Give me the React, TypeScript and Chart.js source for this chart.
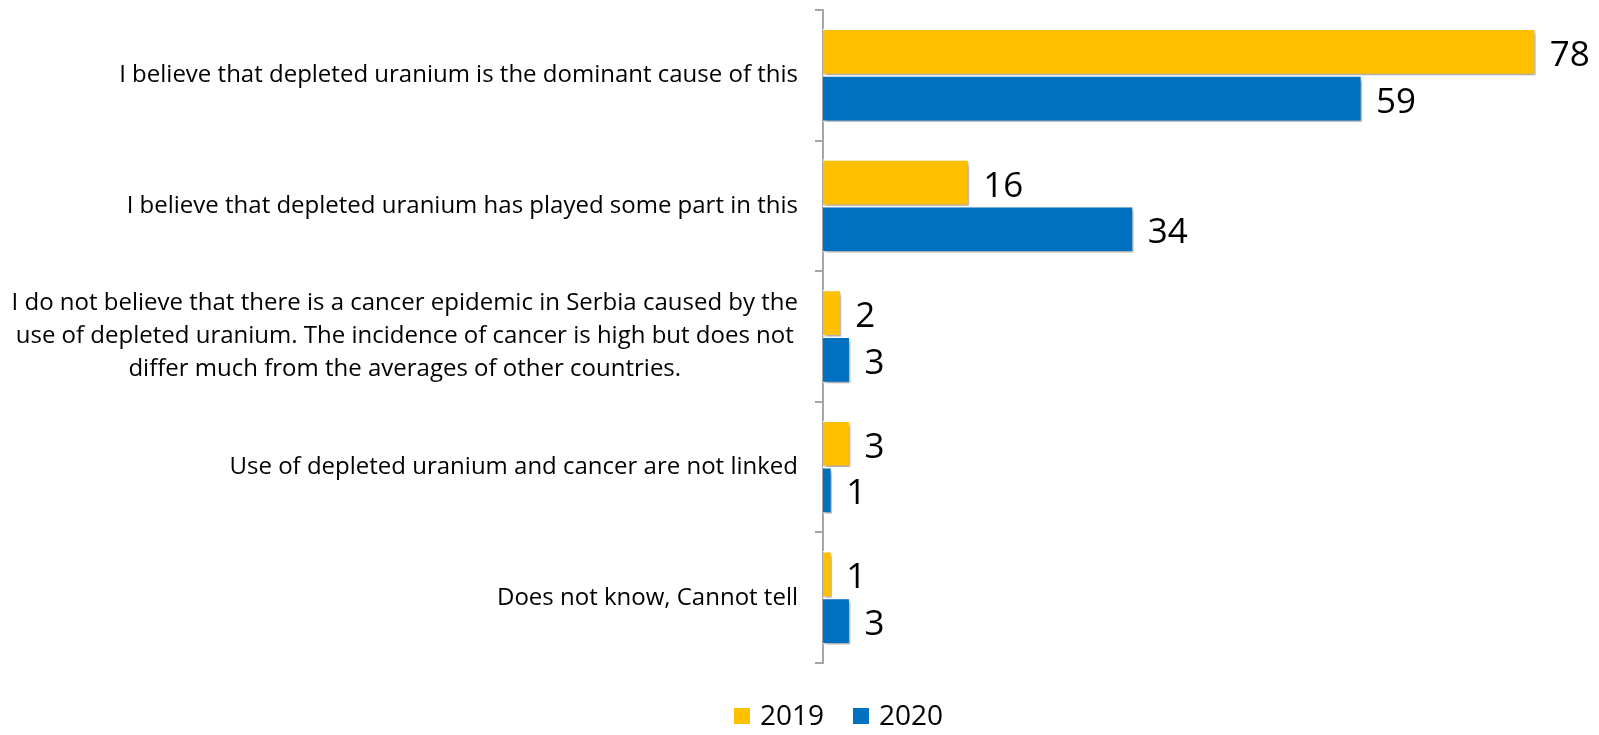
import React, { useEffect, useRef } from "react";
import { Chart, registerables } from "chart.js";

Chart.register(...registerables);

const categories: string[][] = [
  ["I believe that depleted uranium is the dominant cause of this"],
  ["I believe that depleted uranium has played some part in this"],
  [
    "I do not believe that there is a cancer epidemic in Serbia caused by the",
    "use of depleted uranium. The incidence of cancer is high but does not",
    "differ much from the averages of other countries.",
  ],
  ["Use of depleted uranium and cancer are not linked"],
  ["Does not know, Cannot tell"],
];
const seriesNames = ["2019", "2020"];
const values2019 = [78, 16, 2, 3, 1];
const values2020 = [59, 34, 3, 1, 3];
const colors = ["#FFC000", "#0070C0"];

const FONT = "'Open Sans', Lato, sans-serif";

export default function App() {
  const ref = useRef<HTMLCanvasElement | null>(null);
  useEffect(() => {
    if (!ref.current) return;
    const shadowPlugin = {
      id: "shadowPlugin",
      beforeDatasetsDraw(chart: any) {
        const ctx = chart.ctx;
        ctx.save();
        ctx.shadowColor = "rgba(0,0,0,0.35)";
        ctx.shadowBlur = 4;
        ctx.shadowOffsetX = 2;
        ctx.shadowOffsetY = 3;
      },
      afterDatasetsDraw(chart: any) {
        chart.ctx.restore();
      },
    };
    const labelsPlugin = {
      id: "labelsPlugin",
      afterDraw(chart: any) {
        const ctx = chart.ctx;
        ctx.save();
        // data labels
        ctx.fillStyle = "#000";
        ctx.font = `35px ${FONT}`;
        ctx.textAlign = "left";
        ctx.textBaseline = "middle";
        chart.data.datasets.forEach((ds: any, di: number) => {
          const meta = chart.getDatasetMeta(di);
          meta.data.forEach((bar: any, i: number) => {
            ctx.fillText(String(ds.data[i]), bar.x + 14, bar.y + 4);
          });
        });
        // category labels
        const yScale = chart.scales.y;
        ctx.font = `24px ${FONT}`;
        ctx.textAlign = "center";
        const rightEdge = chart.chartArea.left - 25;
        const lh = 33;
        categories.forEach((lines, i) => {
          const cy = yScale.getPixelForValue(i);
          let widest = 0;
          lines.forEach((l) => (widest = Math.max(widest, ctx.measureText(l).width)));
          const cx = rightEdge - widest / 2;
          lines.forEach((l, k) => {
            ctx.fillText(l, cx, cy + (k - (lines.length - 1) / 2) * lh);
          });
        });
        // legend
        ctx.font = `28px ${FONT}`;
        ctx.textAlign = "left";
        const ly = 708;
        const boxX = [726, 845];
        const textX = [752, 871];
        seriesNames.forEach((n, i) => {
          ctx.fillStyle = colors[i];
          ctx.fillRect(boxX[i], ly - 8, 16, 16);
          ctx.fillStyle = "#000";
          ctx.fillText(n, textX[i], ly + 1);
        });
        ctx.restore();
      },
    };
    const chart = new Chart(ref.current, {
      type: "bar",
      data: {
        labels: categories.map((c) => c.join(" ")),
        datasets: [
          {
            label: seriesNames[0],
            data: values2019,
            backgroundColor: colors[0],
            borderColor: "#FFFFFF",
            borderWidth: 1.5,
            categoryPercentage: 0.715,
            barPercentage: 1,
          },
          {
            label: seriesNames[1],
            data: values2020,
            backgroundColor: colors[1],
            borderColor: "#FFFFFF",
            borderWidth: 1.5,
            categoryPercentage: 0.715,
            barPercentage: 1,
          },
        ],
      },
      options: {
        indexAxis: "y",
        responsive: false,
        animation: false,
        layout: { padding: { left: 807, right: 37, top: 2, bottom: 72 } },
        plugins: {
          legend: { display: false },
          tooltip: { enabled: false },
        },
        scales: {
          x: { display: false, min: 0, max: 80 },
          y: {
            display: true,
            ticks: { display: false },
            grid: {
              display: true,
              drawOnChartArea: false,
              drawTicks: true,
              tickLength: 8,
              color: "#A6A6A6",
              lineWidth: 2,
              offset: true,
            },
            border: { display: true, color: "#A6A6A6", width: 2 },
          },
        },
      },
      plugins: [shadowPlugin, labelsPlugin],
    });
    return () => chart.destroy();
  }, []);
  return (
    <canvas
      ref={ref}
      width={1583}
      height={727}
      style={{ display: "block", marginBottom: -8 }}
    />
  );
}
